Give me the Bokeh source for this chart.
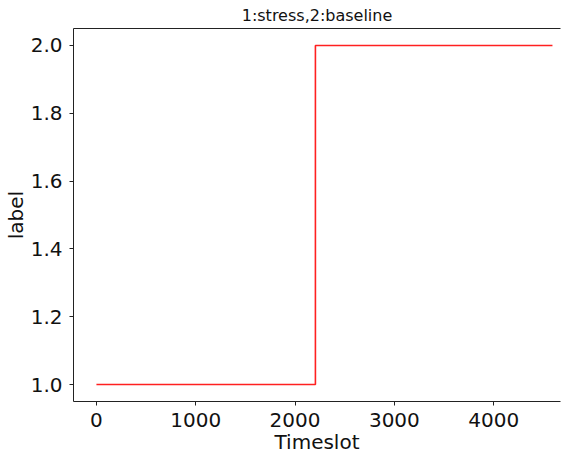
from bokeh.plotting import figure
from bokeh.models import LinearAxis, FixedTicker, Range1d, Title, PrintfTickFormatter
from bokeh.embed import file_html
from bokeh.resources import INLINE

# Data: step change of label over timeslots
timeslot = [0, 2205, 4592]
label = [1, 2, 2]
x_ticks = [0, 1000, 2000, 3000, 4000]
y_ticks = [1.0, 1.2, 1.4, 1.6, 1.8, 2.0]

FONT = "DejaVu Sans"

p = figure(frame_width=487, frame_height=373, output_backend="svg", toolbar_location=None,
           x_range=Range1d(-231, 4673), y_range=Range1d(0.95, 2.05),
           x_axis_location=None, y_axis_location=None,
           min_border_left=68, min_border_right=1, min_border_top=0, min_border_bottom=0)
p.outline_line_color = None
p.grid.visible = False
p.background_fill_color = "white"
p.border_fill_color = "white"

p.step(timeslot, label, mode="after", line_color="#ff2020", line_width=1.6)

def style(ax):
    ax.axis_line_color = "#222222"
    ax.axis_line_width = 1
    ax.major_tick_line_color = "#222222"
    ax.major_tick_in = 0
    ax.major_tick_out = 4
    ax.minor_tick_line_color = None
    ax.major_label_text_font = FONT
    ax.major_label_text_font_size = "20px"
    ax.major_label_text_color = "#111111"
    ax.axis_label_text_font = FONT
    ax.axis_label_text_font_size = "20px"
    ax.axis_label_text_font_style = "normal"
    ax.axis_label_text_color = "#111111"

xa = LinearAxis(ticker=FixedTicker(ticks=x_ticks), axis_label="Timeslot")
style(xa)
xa.major_label_standoff = 7
xa.axis_label_standoff = 0
p.add_layout(xa, "below")

ya = LinearAxis(ticker=FixedTicker(ticks=y_ticks), axis_label="label",
                formatter=PrintfTickFormatter(format="%.1f"))
style(ya)
ya.major_label_standoff = 7
ya.axis_label_standoff = 0
p.add_layout(ya, "left")

ta = LinearAxis(ticker=FixedTicker(ticks=[]))
style(ta)
ta.major_tick_out = 0
ta.major_label_text_font_size = "0px"
ta.major_label_standoff = 0
p.add_layout(ta, "above")

t = Title(text="1:stress,2:baseline", align="center", text_font=FONT,
          text_font_size="16px", text_font_style="normal", text_color="#111111",
          standoff=7)
p.add_layout(t, "above")

open("out.html", "w").write(file_html(p, INLINE))
